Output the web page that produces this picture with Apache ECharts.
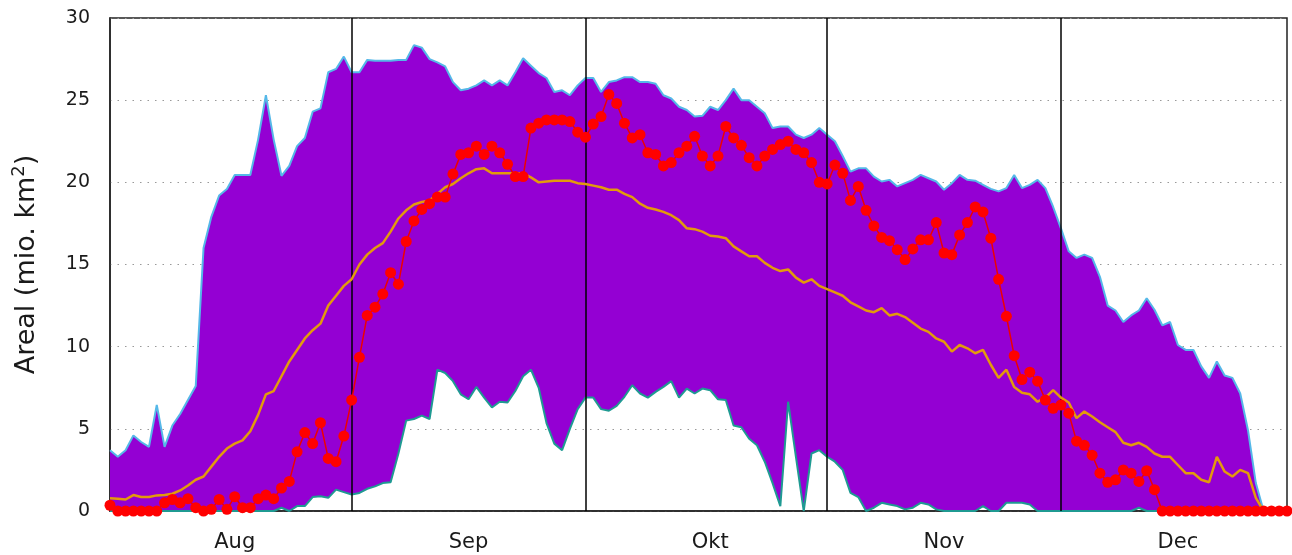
<!DOCTYPE html>
<html>
<head>
<meta charset="utf-8">
<script src="https://cdn.jsdelivr.net/npm/echarts@6/dist/echarts.min.js"></script>
<style>
  html, body { margin: 0; padding: 0; background: #fff; }
  #chart { width: 1292px; height: 555px; }
</style>
</head>
<body>
<div id="chart"></div>
<script>
// Days 0..151 = 1 Aug .. 30 Dec
const monthNames = ['Aug', 'Sep', 'Okt', 'Nov', 'Dec'];
const monthMid = [16, 46, 77, 107, 137];
const monthStart = [31, 61, 92, 122];

const maxVals = [
  3.7, 3.3, 3.7, 4.6, 4.2, 3.9, 6.45, 3.9, 5.2, 5.9,
  6.75, 7.6, 16.0, 17.9, 19.2, 19.6, 20.45, 20.45, 20.45, 22.6,
  25.3, 22.6, 20.4, 21.0, 22.2, 22.7, 24.3, 24.5, 26.7, 26.9,
  27.65, 26.7, 26.7, 27.45, 27.4, 27.4, 27.4, 27.45, 27.45, 28.35,
  28.2, 27.5, 27.3, 27.05, 26.1, 25.6, 25.7, 25.9, 26.2, 25.9,
  26.2, 25.9, 26.7, 27.55, 27.1, 26.65, 26.35, 25.5, 25.6, 25.3,
  25.9, 26.35, 26.35, 25.5, 26.1, 26.2, 26.4, 26.4, 26.1, 26.1,
  26.0, 25.3, 25.1, 24.6, 24.4, 24.0, 24.05, 24.6, 24.4, 25.0,
  25.7, 25.0, 25.0, 24.6, 24.2, 23.3, 23.4, 23.4, 22.9, 22.7,
  22.9, 23.3, 22.9, 22.5, 21.6, 20.65, 20.85, 20.85, 20.35, 20.05,
  20.15, 19.75, 19.95, 20.15, 20.45, 20.25, 20.05, 19.55, 19.95, 20.45,
  20.15, 20.1, 19.85, 19.6, 19.45, 19.65, 20.45, 19.65, 19.85, 20.15,
  19.65, 18.5, 17.2, 15.8, 15.4, 15.6, 15.4, 14.25, 12.5, 12.2,
  11.5, 11.9, 12.2, 12.95, 12.25, 11.3, 11.5, 10.1, 9.8, 9.8,
  8.8, 8.1, 9.1, 8.25, 8.1, 7.15, 4.9, 1.7, 0, 0,
  0, 0
];

const minVals = [
  0, 0, 0, 0, 0, 0, 0, 0, 0, 0,
  0, 0, 0, 0, 0, 0, 0, 0, 0, 0,
  0, 0, 0.2, 0, 0.3, 0.3, 0.85, 0.9, 0.8, 1.3,
  1.15, 1.0, 1.1, 1.35, 1.5, 1.7, 1.75, 3.5, 5.5, 5.6,
  5.8, 5.6, 8.6, 8.4, 7.9, 7.1, 6.8, 7.55, 6.9, 6.3,
  6.65, 6.6, 7.3, 8.2, 8.6, 7.5, 5.35, 4.1, 3.7, 5.0,
  6.2, 6.9, 6.9, 6.2, 6.1, 6.4, 6.95, 7.65, 7.15, 6.9,
  7.25, 7.55, 7.9, 6.9, 7.45, 7.15, 7.45, 7.35, 6.8, 6.75,
  5.2, 5.1, 4.4, 4.0, 3.0, 1.7, 0.3, 6.65, 3.3, 0,
  3.5, 3.7, 3.3, 3.0, 2.5, 1.1, 0.85, 0, 0.2, 0.5,
  0.4, 0.3, 0.1, 0.2, 0.5, 0.4, 0.1, 0, 0, 0,
  0, 0, 0.3, 0, 0, 0.5, 0.5, 0.5, 0.4, 0,
  0, 0, 0, 0, 0, 0, 0, 0, 0, 0,
  0, 0, 0.2, 0, 0, 0, 0, 0, 0, 0,
  0, 0, 0, 0, 0, 0, 0, 0, 0, 0,
  0, 0
];

const medianVals = [
  0.77, 0.75, 0.7, 0.97, 0.85, 0.85, 0.95, 0.97, 1.05, 1.25,
  1.55, 1.9, 2.1, 2.7, 3.3, 3.8, 4.1, 4.3, 4.85, 5.85,
  7.1, 7.3, 8.2, 9.1, 9.8, 10.5, 11.0, 11.4, 12.5, 13.1,
  13.7, 14.1, 15.0, 15.6, 16.0, 16.3, 17.0, 17.8, 18.3, 18.65,
  18.8, 18.9, 19.3, 19.7, 19.9, 20.25, 20.55, 20.8, 20.85, 20.55,
  20.55, 20.55, 20.55, 20.55, 20.3, 20.0, 20.05, 20.1, 20.1, 20.1,
  19.95, 19.9, 19.8, 19.7, 19.55, 19.55, 19.3, 19.1, 18.7, 18.45,
  18.35, 18.2, 18.0, 17.7, 17.2, 17.15, 17.0, 16.75, 16.7, 16.6,
  16.1, 15.8, 15.5, 15.5, 15.1, 14.8, 14.6, 14.7, 14.2, 13.9,
  14.1, 13.7, 13.5, 13.3, 13.1, 12.7, 12.45, 12.2, 12.1, 12.35,
  11.9, 12.0, 11.8, 11.45, 11.1, 10.9, 10.5, 10.3, 9.7, 10.1,
  9.9, 9.6, 9.8, 8.9, 8.1, 8.6, 7.55, 7.2, 7.1, 6.65,
  6.9, 7.35, 6.9, 6.6, 5.65, 6.05, 5.75, 5.4, 5.1, 4.8,
  4.15, 4.0, 4.15, 3.9, 3.5, 3.3, 3.3, 2.8, 2.3, 2.3,
  1.9, 1.75, 3.3, 2.4, 2.1, 2.5, 2.3, 0.8, 0, 0,
  0, 0
];

const currentVals = [
  0.35, 0, 0, 0, 0, 0, 0, 0.5, 0.7, 0.5,
  0.75, 0.2, 0, 0.1, 0.7, 0.1, 0.87, 0.2, 0.2, 0.75,
  0.97, 0.75, 1.4, 1.8, 3.6, 4.77, 4.1, 5.37, 3.2, 3.0,
  4.56, 6.75, 9.35, 11.9, 12.4, 13.2, 14.5, 13.8, 16.4, 17.65,
  18.35, 18.7, 19.1, 19.1, 20.5, 21.7, 21.8, 22.2, 21.7, 22.2,
  21.8, 21.1, 20.35, 20.35, 23.3, 23.6, 23.8, 23.8, 23.8, 23.7,
  23.05, 22.75, 23.55, 24.0, 25.35, 24.8, 23.6, 22.7, 22.9, 21.8,
  21.7, 21.0, 21.2, 21.8, 22.2, 22.8, 21.6, 21.0, 21.6, 23.4,
  22.7, 22.25, 21.5, 21.0, 21.6, 22.0, 22.3, 22.5, 22.0, 21.8,
  21.2, 20.0, 19.9, 21.05, 20.55, 18.9, 19.75, 18.3, 17.35, 16.65,
  16.45, 15.9, 15.3, 15.95, 16.5, 16.5, 17.55, 15.7, 15.6, 16.8,
  17.55, 18.5, 18.2, 16.6, 14.1, 11.85, 9.45, 8.0, 8.45, 7.9,
  6.75, 6.25, 6.45, 5.95, 4.25, 4.0, 3.4, 2.3, 1.75, 1.9,
  2.5, 2.3, 1.8, 2.45, 1.3, 0, 0, 0, 0, 0,
  0, 0, 0, 0, 0, 0, 0, 0, 0, 0,
  0, 0
];

const yTicks = [0, 5, 10, 15, 20, 25, 30];

const days = maxVals.map((_, i) => String(i));
const rangeVals = maxVals.map((v, i) => +(v - minVals[i]).toFixed(3));

const FONT = 'DejaVu Sans';
const chart = echarts.init(document.getElementById('chart'), null, { renderer: 'canvas' });

chart.setOption({
  animation: false,
  backgroundColor: '#ffffff',
  grid: {
    left: 110, right: 5, top: 18, bottom: 44,
    show: true, borderColor: '#222', borderWidth: 1.5, backgroundColor: 'transparent'
  },
  xAxis: {
    type: 'category',
    data: days,
    boundaryGap: false,
    axisLine: { show: true, lineStyle: { color: '#222', width: 1.5 } },
    axisTick: { show: false },
    splitLine: { show: false },
    axisLabel: {
      interval: (index) => monthMid.indexOf(index) >= 0,
      formatter: (value, index) => {
        const k = monthMid.indexOf(Number(value));
        return k >= 0 ? monthNames[k] : '';
      },
      fontFamily: FONT, fontSize: 21, color: '#1a1a1a', margin: 21
    }
  },
  yAxis: {
    type: 'value',
    min: yTicks[0],
    max: yTicks[yTicks.length - 1],
    interval: 5,
    name: '{a|Areal (mio. km}{s|2}{a|)}',
    nameLocation: 'middle',
    nameRotate: 90,
    nameGap: 70,
    nameTextStyle: {
      fontFamily: FONT, fontSize: 27, color: '#1a1a1a',
      rich: {
        a: { fontFamily: FONT, fontSize: 27, color: '#1a1a1a', verticalAlign: 'bottom' },
        s: { fontFamily: FONT, fontSize: 18, color: '#1a1a1a', verticalAlign: 'bottom', padding: [0, 0, 12, 0] }
      }
    },
    axisLine: { show: true, lineStyle: { color: '#222', width: 1.5 } },
    axisTick: { show: false },
    axisLabel: { fontFamily: FONT, fontSize: 19, color: '#1a1a1a', margin: 20 },
    splitLine: { show: true, lineStyle: { color: '#999', width: 1.2, type: [1.5, 6] } }
  },
  series: [
    {
      name: 'min',
      type: 'line',
      stack: 'band',
      data: minVals,
      symbol: 'none',
      z: 4,
      lineStyle: { color: '#1f9a92', width: 2 },
      areaStyle: { opacity: 0 }
    },
    {
      name: 'range',
      type: 'line',
      stack: 'band',
      data: rangeVals,
      symbol: 'none',
      z: 3,
      lineStyle: { color: '#55b8e8', width: 2 },
      areaStyle: { color: '#9400d3', opacity: 1 }
    },
    {
      name: 'months',
      type: 'line',
      data: [],
      z: 5,
      markLine: {
        silent: true,
        symbol: ['none', 'none'],
        label: { show: false },
        lineStyle: { color: '#000', width: 1.5, type: 'solid' },
        data: monthStart.map(d => ({ xAxis: String(d) }))
      }
    },
    {
      name: 'median',
      type: 'line',
      data: medianVals,
      symbol: 'none',
      z: 6,
      lineStyle: { color: '#e39a0c', width: 2.5 }
    },
    {
      name: 'current',
      type: 'line',
      data: currentVals,
      symbol: 'circle',
      symbolSize: 11,
      showAllSymbol: true,
      clip: false,
      z: 7,
      itemStyle: { color: '#ff0000', borderWidth: 0 },
      lineStyle: { color: '#ee0000', width: 1.5 }
    }
  ]
});
</script>
</body>
</html>
